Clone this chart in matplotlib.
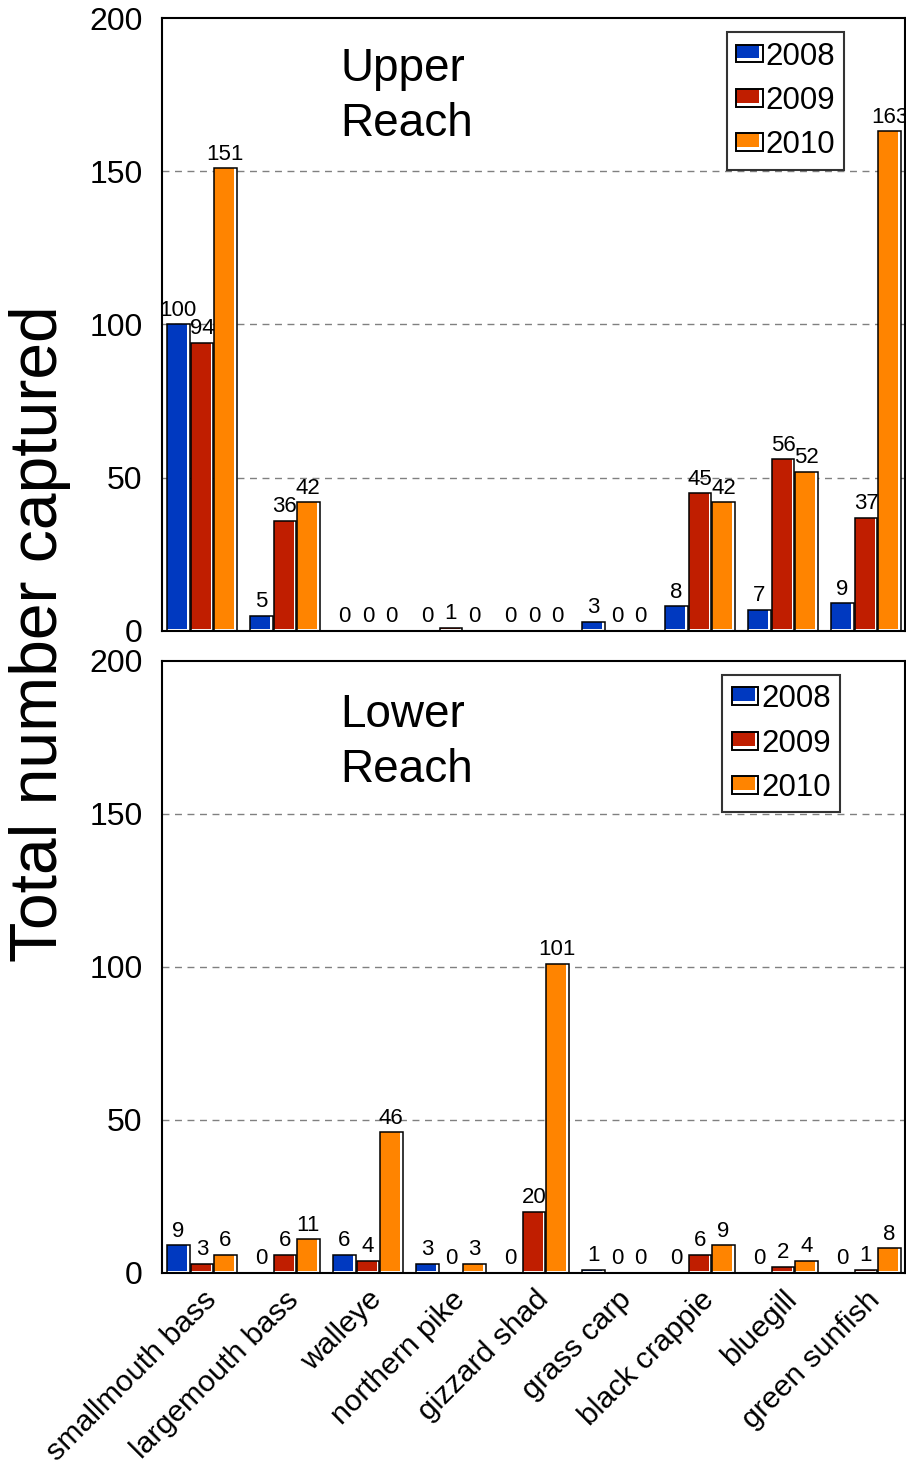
import matplotlib
matplotlib.use("Agg")
import matplotlib.pyplot as plt
import numpy as np
from matplotlib.patches import Rectangle
from matplotlib.legend_handler import HandlerBase

plt.rcParams['font.family'] = ['Liberation Sans', 'DejaVu Sans']

species = ["smallmouth bass", "largemouth bass", "walleye", "northern pike",
           "gizzard shad", "grass carp", "black crappie", "bluegill", "green sunfish"]
years = ["2008", "2009", "2010"]
colors = ["#0039C0", "#C01E00", "#FF8400"]

upper_2008 = [100, 5, 0, 0, 0, 3, 8, 7, 9]
upper_2009 = [94, 36, 0, 1, 0, 0, 45, 56, 37]
upper_2010 = [151, 42, 0, 0, 0, 0, 42, 52, 163]

lower_2008 = [9, 0, 6, 3, 0, 1, 0, 0, 0]
lower_2009 = [3, 6, 4, 0, 20, 0, 6, 2, 1]
lower_2010 = [6, 11, 46, 3, 101, 0, 9, 4, 8]

yticks = [0, 50, 100, 150, 200]

fig = plt.figure(figsize=(9.06, 14.66), dpi=100)
ax_up = fig.add_axes([0.1788, 0.5696, 0.8201, 0.4181])
ax_lo = fig.add_axes([0.1788, 0.1317, 0.8201, 0.4175])

x = np.arange(len(species))
w = 0.27
off = 0.283
xlim = (-0.48, 8.47)


class HandlerStriped(HandlerBase):
    def __init__(self, color):
        super().__init__()
        self.color = color

    def create_artists(self, legend, orig_handle, xdescent, ydescent, width, height, fontsize, trans):
        bg = Rectangle((-xdescent, -ydescent), width, height, facecolor='white',
                       edgecolor='none', transform=trans)
        inner = Rectangle((-xdescent, -ydescent + height * 0.22), width * 0.86, height * 0.78,
                          facecolor=self.color, edgecolor='none', transform=trans)
        border = Rectangle((-xdescent, -ydescent), width, height, facecolor='none',
                           edgecolor='black', linewidth=1.4, transform=trans)
        return [bg, inner, border]


def draw_panel(ax, series, title, leg_box):
    ax.set_xlim(*xlim)
    ax.set_ylim(0, 200)
    fig.canvas.draw()
    bb = ax.get_window_extent()
    px_x = (xlim[1] - xlim[0]) / bb.width
    px_y = 200.0 / bb.height
    sx = 2.4 * px_x
    sy = 2.4 * px_y
    handles = []
    for i, (vals, c) in enumerate(zip(series, colors)):
        vals = np.array(vals, dtype=float)
        xs = x + (i - 1) * off
        ax.bar(xs, vals, width=w, color='white', edgecolor='none', zorder=2)
        h = np.clip(vals - sy, 0, None)
        ax.bar(xs - w / 2, h, width=w - sx, bottom=sy, align='edge', color=c,
               edgecolor='none', zorder=3)
        hb = ax.bar(xs, vals, width=w, facecolor='none', edgecolor='black',
                    linewidth=1.1, zorder=4)
        handles.append(hb)
        for xi, v in zip(xs, vals):
            ax.annotate(f"{int(v)}", (xi, v), xytext=(0, 2.5), textcoords='offset points',
                        ha='center', va='bottom', fontsize=16, zorder=5)
    ax.set_yticks(yticks)
    ax.set_yticklabels([str(t) for t in yticks], fontsize=23)
    ax.tick_params(axis='y', length=0, pad=14)
    ax.tick_params(axis='x', length=0)
    for yv in [50, 100, 150]:
        ax.axhline(yv, color='#808080', linestyle=(0, (5, 4)), linewidth=1.0, zorder=1)
    for s in ax.spines.values():
        s.set_linewidth(1.5)
        s.set_color('black')
    ax.text(0.2396, leg_box[2], title, transform=ax.transAxes, fontsize=33,
            ha='left', va='top', linespacing=1.32, zorder=6)
    hmap = {h: HandlerStriped(c) for h, c in zip(handles, colors)}
    leg = ax.legend(handles, years, loc='upper left', bbox_to_anchor=(leg_box[0], leg_box[1]),
                    fontsize=22.5, frameon=True, fancybox=False, edgecolor='black',
                    handlelength=0.86, handleheight=0.5, handletextpad=0.08,
                    labelspacing=0.46, borderpad=0.3, borderaxespad=0.0,
                    handler_map=hmap)
    leg.get_frame().set_linewidth(1.5)
    leg.set_zorder(7)
    return leg


draw_panel(ax_up, [upper_2008, upper_2009, upper_2010], "Upper\nReach",
           (0.760, 0.977, 0.952))
draw_panel(ax_lo, [lower_2008, lower_2009, lower_2010], "Lower\nReach",
           (0.754, 0.977, 0.948))

ax_up.set_xticks(x)
ax_up.set_xticklabels([])
ax_lo.set_xticks(x)
ax_lo.set_xticklabels(species, fontsize=21.8, rotation=45, ha='right',
                      rotation_mode='anchor')
ax_lo.tick_params(axis='x', pad=9)

fig.text(0.044, 0.568, "Total number captured", rotation=90, fontsize=47.5,
         ha='center', va='center')

fig.savefig("out.png", dpi=100)
